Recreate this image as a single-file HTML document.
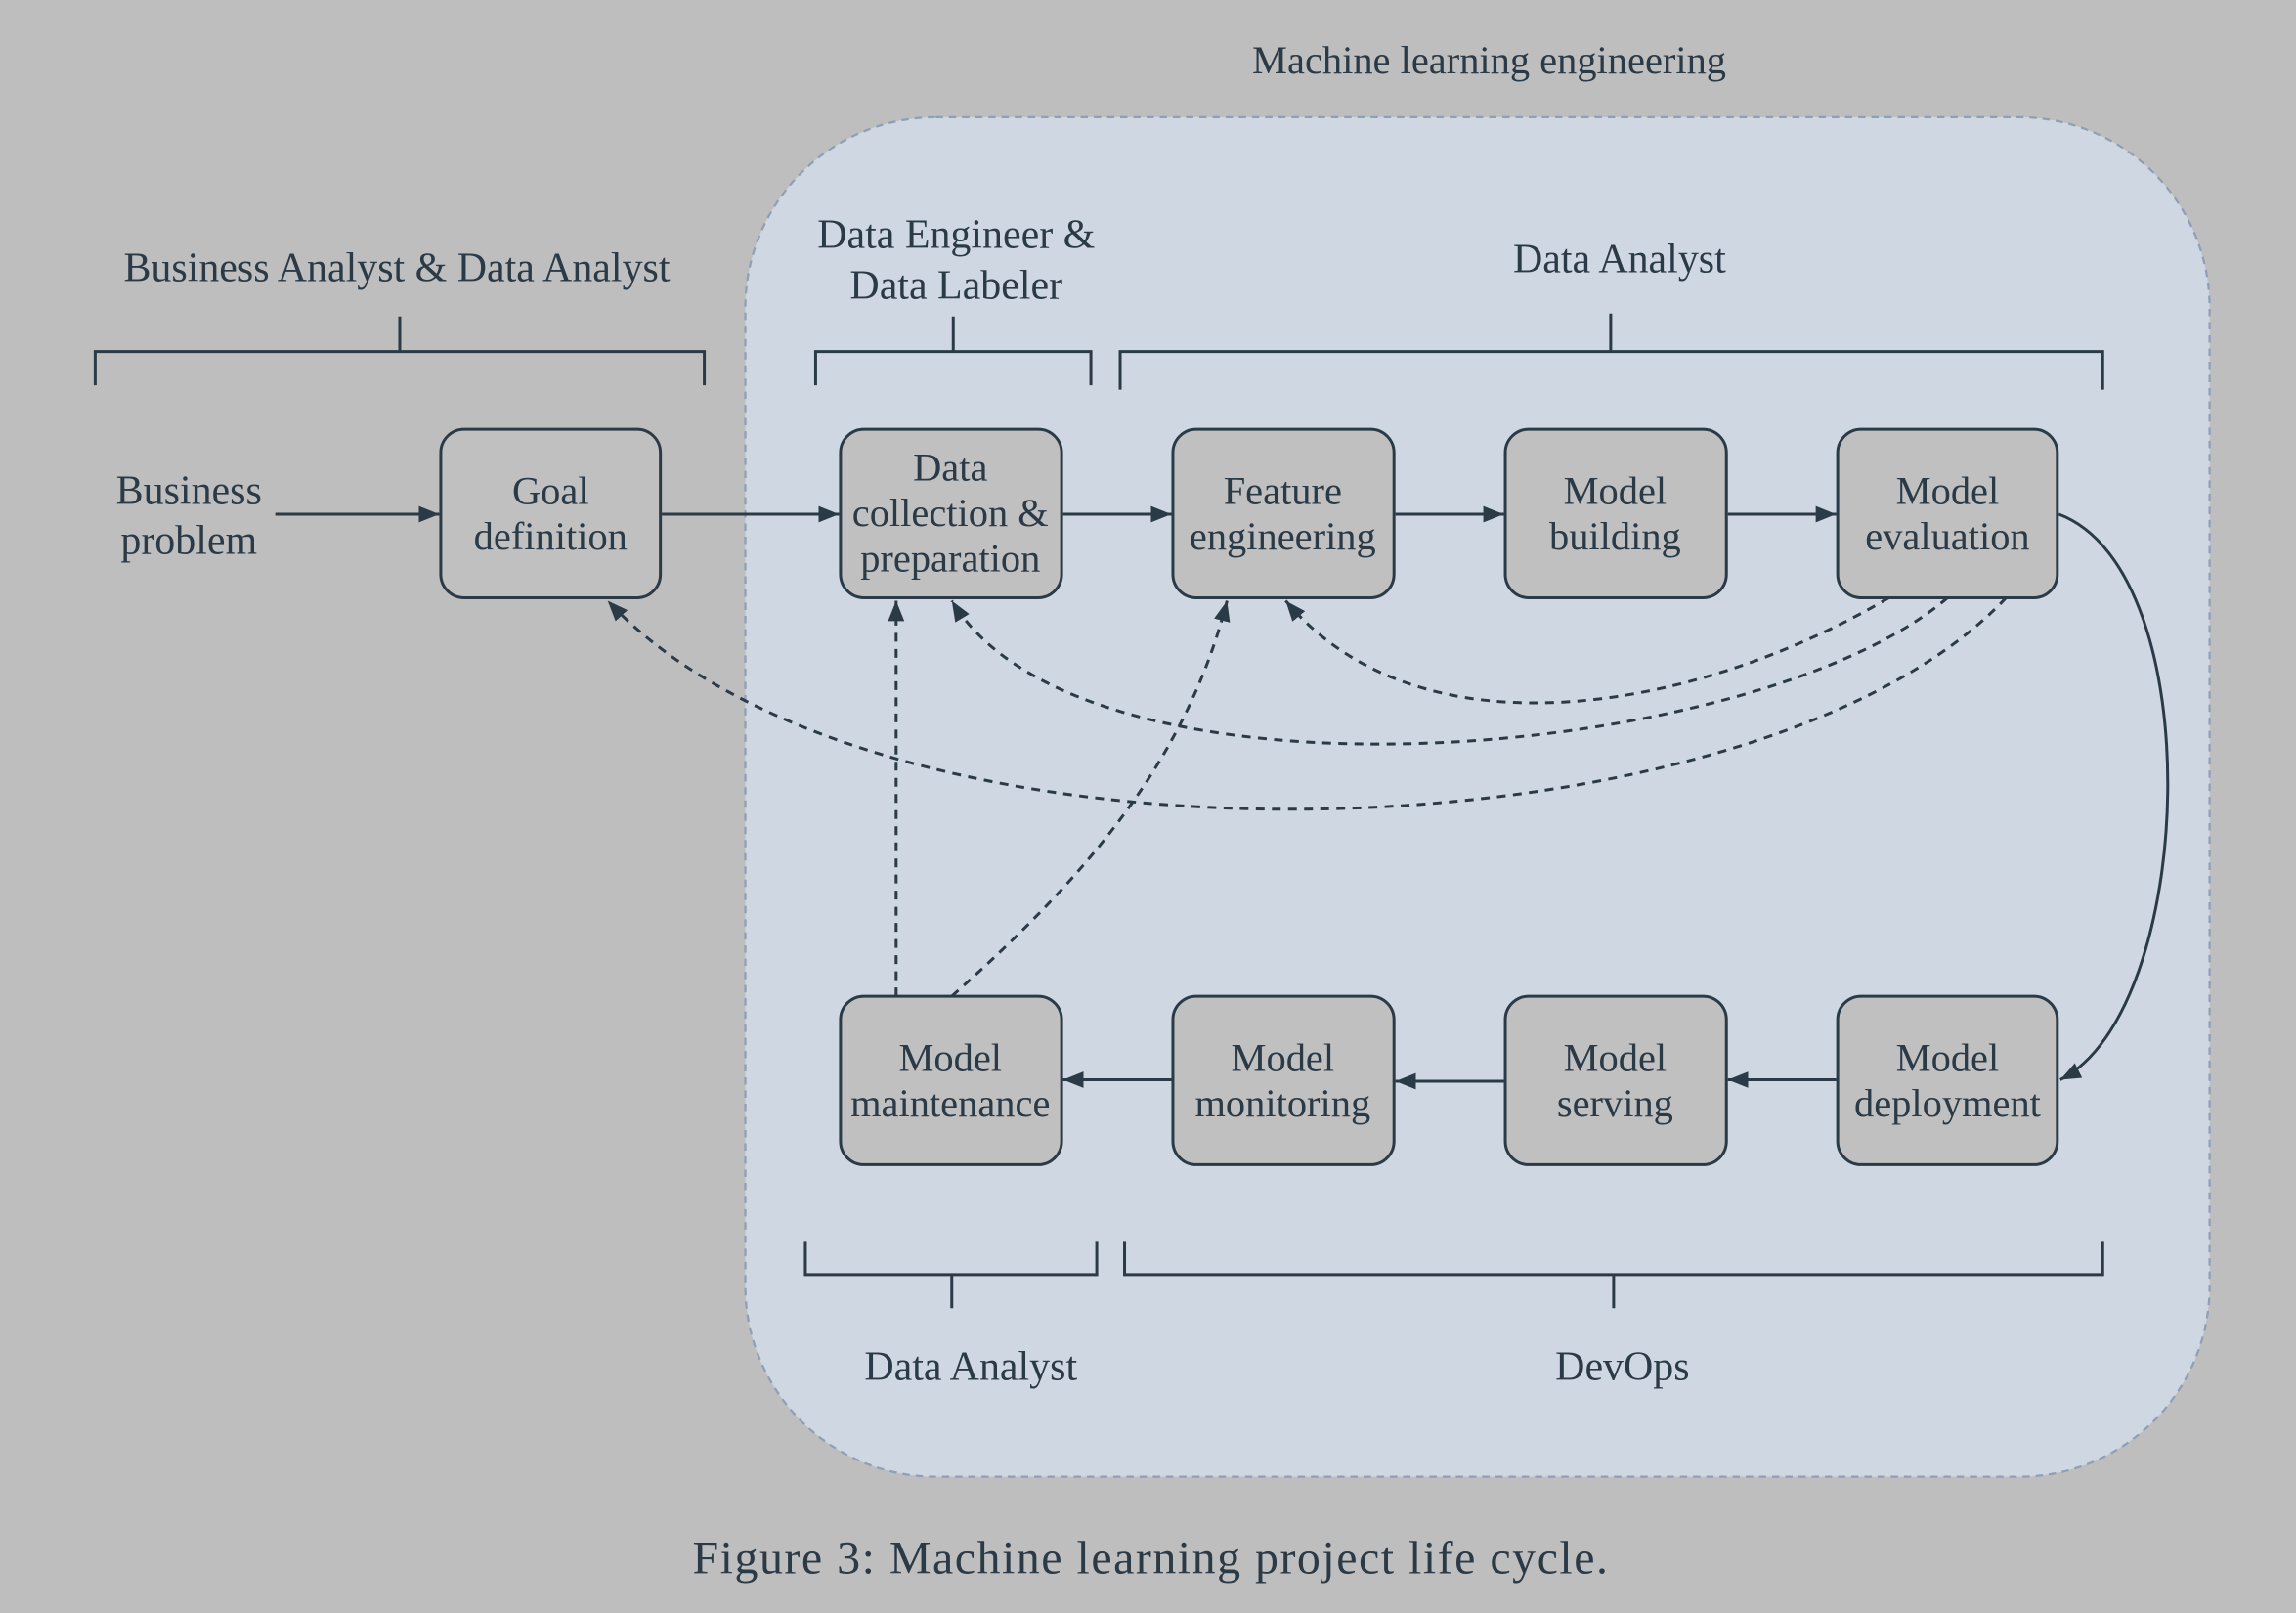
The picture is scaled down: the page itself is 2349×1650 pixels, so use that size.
<!DOCTYPE html>
<html><head><meta charset="utf-8"><style>
html,body{margin:0;padding:0;background:#bebebe}
svg{display:block}
svg text{font-family:"Liberation Serif","DejaVu Serif",serif;fill:#2b3a47}
</style></head><body>
<svg width="2349" height="1650" viewBox="0 0 1568 1101" preserveAspectRatio="none" xmlns="http://www.w3.org/2000/svg" font-family="'Liberation Serif', 'DejaVu Serif', serif">
<defs>
<marker id="a" viewBox="0 0 10 10" refX="10" refY="5" markerWidth="7" markerHeight="7" orient="auto"><path d="M0,1 L10,5 L0,9 z" fill="#2b3a47"/></marker>
</defs>
<rect x="0" y="0" width="1568" height="1101" fill="#bebebe"/>
<rect x="509" y="80" width="1000" height="928" rx="130" fill="#cfd8e2" stroke="#8f9fb5" stroke-width="1.5" stroke-dasharray="5,4"/>
<g font-family="'Liberation Serif', 'DejaVu Serif', serif">
<text x="1017" y="50" font-size="27" text-anchor="middle">Machine learning engineering</text>
<g font-size="28" text-anchor="middle">
<text x="271" y="192">Business Analyst &amp; Data Analyst</text>
<text x="653" y="169">Data Engineer &amp;</text>
<text x="653" y="204">Data Labeler</text>
<text x="1106" y="186">Data Analyst</text>
<text x="663" y="942">Data Analyst</text>
<text x="1108" y="942">DevOps</text>
<text x="129" y="344">Business</text>
<text x="129" y="378">problem</text>
</g>
</g>
<g fill="none" stroke="#2b3a47" stroke-width="2">
<path d="M65,263 V240 H481 V263 M273,240 V216"/>
<path d="M557,263 V240 H745 V263 M651,240 V216"/>
<path d="M765,266 V240 H1436 V266 M1100,240 V214"/>
<path d="M550,847 V870 H749 V847 M650,870 V893"/>
<path d="M768,847 V870 H1436 V847 M1102,870 V893"/>
</g>
<g fill="#c0c0c0" stroke="#2b3a47" stroke-width="2">
<rect x="301" y="293" width="150" height="115" rx="16"/>
<rect x="574" y="293" width="151" height="115" rx="16"/>
<rect x="801" y="293" width="151" height="115" rx="16"/>
<rect x="1028" y="293" width="151" height="115" rx="16"/>
<rect x="1255" y="293" width="150" height="115" rx="16"/>
<rect x="574" y="680" width="151" height="115" rx="16"/>
<rect x="801" y="680" width="151" height="115" rx="16"/>
<rect x="1028" y="680" width="151" height="115" rx="16"/>
<rect x="1255" y="680" width="150" height="115" rx="16"/>
</g>
<g font-size="27" text-anchor="middle" font-family="'Liberation Serif', 'DejaVu Serif', serif">
<text x="376" y="344">Goal</text><text x="376" y="375">definition</text>
<text x="649" y="328">Data</text><text x="649" y="359">collection &amp;</text><text x="649" y="390">preparation</text>
<text x="876" y="344">Feature</text><text x="876" y="375">engineering</text>
<text x="1103" y="344">Model</text><text x="1103" y="375">building</text>
<text x="1330" y="344">Model</text><text x="1330" y="375">evaluation</text>
<text x="649" y="731">Model</text><text x="649" y="762">maintenance</text>
<text x="876" y="731">Model</text><text x="876" y="762">monitoring</text>
<text x="1103" y="731">Model</text><text x="1103" y="762">serving</text>
<text x="1330" y="731">Model</text><text x="1330" y="762">deployment</text>
</g>
<g fill="none" stroke="#2b3a47" stroke-width="2" marker-end="url(#a)">
<path d="M188,351 H300"/>
<path d="M452,351 H573"/>
<path d="M726,351 H800"/>
<path d="M953,351 H1027"/>
<path d="M1180,351 H1254"/>
<path d="M1254,737 H1180"/>
<path d="M1027,738 H953"/>
<path d="M800,737 H726"/>
<path d="M1406,351 C1510,390 1500,690 1407,737"/>
</g>
<g fill="none" stroke="#2b3a47" stroke-width="2" stroke-dasharray="6,5" marker-end="url(#a)">
<path d="M1290,408 C1160,485 970,520 878,410"/>
<path d="M1330,408 C1200,520 740,560 650,410"/>
<path d="M1370,408 C1200,590 600,610 415,410"/>
<path d="M612,680 V410"/>
<path d="M650,680 C740,600 810,520 838,410"/>
</g>
<text x="786" y="1074" font-size="32" text-anchor="middle" letter-spacing="1" font-family="'Liberation Serif', 'DejaVu Serif', serif">Figure 3: Machine learning project life cycle.</text>
</svg>
</body></html>
